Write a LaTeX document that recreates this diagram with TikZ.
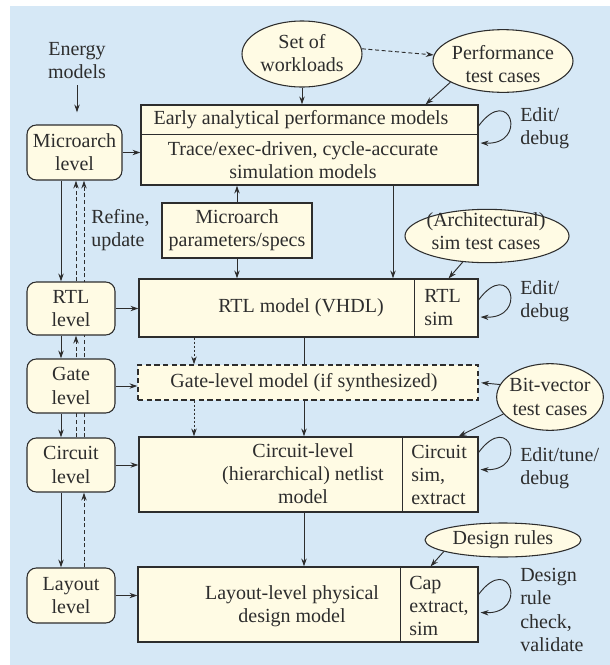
\documentclass[tikz,border=0pt]{standalone}
\usepackage{fontspec}
\setmainfont{Liberation Serif}
\usetikzlibrary{arrows.meta,shapes.geometric,fit,calc,backgrounds}

\definecolor{bgblue}{RGB}{214,232,246}
\definecolor{boxfill}{RGB}{255,251,228}
\definecolor{ink}{RGB}{45,45,45}

\tikzset{
  box/.style={draw=ink, line width=0.8pt, fill=boxfill, inner sep=0pt},
  lev/.style={box, rounded corners=7pt},
  ell/.style={ellipse, draw=ink, line width=0.8pt, fill=boxfill, inner sep=0pt},
  txt/.style={align=center, inner sep=0pt, text=ink},
  ltxt/.style={align=left, inner sep=0pt, text=ink, anchor=west},
  arr/.style={draw=ink, line width=0.7pt, -{Stealth[length=6pt,width=4pt]}},
  dasharr/.style={arr, dash pattern=on 3pt off 2pt},
  dotarr/.style={arr, dash pattern=on 1.5pt off 1.5pt},
}

\begin{document}
\begin{tikzpicture}[x=0.75pt, y=-0.75pt, font=\fontsize{15}{17.3}\selectfont]
        \useasboundingbox (0,0) rectangle (610,665);

        % Columns for the vertical connectors
        \coordinate (downcol) at (61,0);   % level down
        \coordinate (upA) at (76,0);       % refine, first
        \coordinate (upB) at (84,0);       % refine, second
        \coordinate (simcol) at (393,0);   % simulation models to RTL
        \coordinate (dotcol) at (194,0);   % dotted path
        \coordinate (netcol) at (304,0);   % netlist path

        % Levels on the left
        \node[lev, fit={(27,125) (122,180)}] (mlev) {};
        \node[lev, fit={(27,282) (115,335)}] (rlev) {};
        \node[lev, fit={(27,359) (115,413)}] (glev) {};
        \node[lev, fit={(27,438) (115,492)}] (clev) {};
        \node[lev, fit={(27,568) (115,623)}] (llev) {};
        \node[txt] (mlev-t) at (mlev) {Microarch\\level};
        \node[txt] (rlev-t) at (rlev) {RTL\\level};
        \node[txt] (glev-t) at (glev) {Gate\\level};
        \node[txt] (clev-t) at (clev) {Circuit\\level};
        \node[txt] (llev-t) at (llev) {Layout\\level};
        \node[txt] (energy) at (77,61) {Energy\\models};
        \node[ltxt] (refine) at (91,230) {Refine,\\update};

        % Models
        \node[box, fit={(141,105) (478,185)}] (early) {};
        \node[box, fit={(162,203) (312,258)}] (params) {};
        \node[box, fit={(139,279) (478,337)}] (rtl) {};
        \node[box, dash pattern=on 4pt off 2.5pt, fit={(138,365) (478,400)}] (gate) {};
        \node[box, fit={(139,437) (478,512)}] (circ) {};
        \node[box, fit={(138,567) (478,642)}] (lay) {};
        \draw[ink, line width=0.8pt] ($(early.north west)+(0,30)$) -- ($(early.north east)+(0,30)$);
        \draw[ink, line width=0.8pt] ($(rtl.north west)+(276,0)$) -- ($(rtl.south west)+(276,0)$);
        \draw[ink, line width=0.8pt] ($(circ.north west)+(264,0)$) -- ($(circ.south west)+(264,0)$);
        \draw[ink, line width=0.8pt] ($(lay.north west)+(263,0)$) -- ($(lay.south west)+(263,0)$);
        \node[txt] (early-a) at (301,120) {Early analytical performance models};
        \node[txt] (early-b) at (303,160) {Trace/exec-driven, cycle-accurate\\simulation models};
        \node[txt] (params-t) at (params) {Microarch\\parameters/specs};
        \node[txt] (rtl-t) at (301,308) {RTL model (VHDL)};
        \node[ltxt] (rtl-s) at (424,308) {RTL\\sim};
        \node[txt] (gate-t) at (304,383) {Gate-level model (if synthesized)};
        \node[txt] (circ-t) at (303,474) {Circuit-level\\(hierarchical) netlist\\model};
        \node[ltxt] (circ-s) at (411,475) {Circuit\\sim,\\extract};
        \node[txt] (lay-t) at (292,606) {Layout-level physical\\design model};
        \node[ltxt] (lay-s) at (409,606) {Cap\\extract,\\sim};

        % Test inputs
        \node[ell, minimum width=90pt, minimum height=49.5pt] (wl) at (302,54) {};
        \node[ell, minimum width=105pt, minimum height=47pt] (perf) at (503,61) {};
        \node[ell, minimum width=123pt, minimum height=40pt] (arch) at (487,236) {};
        \node[ell, minimum width=80pt, minimum height=50pt] (bitv) at (550,397) {};
        \node[ell, minimum width=117pt, minimum height=25.5pt] (rules) at (503,540) {};
        \node[txt] (wl-t) at (302,53) {Set of\\workloads};
        \node[txt] (perf-t) at (503,64) {Performance\\test cases};
        \node[txt] (arch-t) at (486,231) {(Architectural)\\sim test cases};
        \node[txt] (bitv-t) at (550,397) {Bit-vector\\test cases};
        \node[txt] (rules-t) at (503,540) {Design rules};

        % Edit loops, start above and end below on the right side
        \node[ltxt] (ed1) at (520,128) {Edit/\\debug};
        \node[ltxt] (ed2) at (520,301) {Edit/\\debug};
        \node[ltxt] (ed3) at (520,468) {Edit/tune/\\debug};
        \node[ltxt] (ed4) at (520,610) {Design\\rule\\check,\\validate};
        \draw[arr] ($(early.east)+(0,-19)$) .. controls ($(early.east)+(32,-62)$) and ($(early.east)+(50,0)$) .. ($(early.east)+(2,-2)$);
        \draw[arr] ($(rtl.east)+(0,-8)$) .. controls ($(rtl.east)+(32,-51)$) and ($(rtl.east)+(50,11)$) .. ($(rtl.east)+(2,9)$);
        \draw[arr] ($(circ.east)+(0,-22)$) .. controls ($(circ.east)+(32,-65)$) and ($(circ.east)+(50,-3)$) .. ($(circ.east)+(2,-5)$);
        \draw[arr] ($(lay.east)+(0,-10)$) .. controls ($(lay.east)+(32,-53)$) and ($(lay.east)+(50,10)$) .. ($(lay.east)+(2,8)$);

        % Left column connectors
        \draw[arr, shorten <=4.5pt, shorten >=9pt] (energy) -- (energy |- mlev.north);
        \draw[arr] (mlev.east) -- (mlev.east -| early.west);
        \draw[arr] (rlev.east) -- (rlev.east -| rtl.west);
        \draw[arr] (glev.east) -- (glev.east -| gate.west);
        \draw[arr] (clev.east) -- (clev.east -| circ.west);
        \draw[arr] (llev.east) -- (llev.east -| lay.west);
        \draw[arr] (mlev.south -| downcol) -- (rlev.north -| downcol);
        \draw[arr] (rlev.south -| downcol) -- (glev.north -| downcol);
        \draw[arr] (glev.south -| downcol) -- (clev.north -| downcol);
        \draw[arr] (clev.south -| downcol) -- (llev.north -| downcol);
        \draw[dasharr] (rlev.north -| upA) -- (mlev.south -| upA);
        \draw[dasharr] (llev.north -| upB) -- (clev.south -| upB);

        % Center connectors
        \draw[arr] (wl.south) -- (wl.south |- early.north);
        \draw[dasharr] (wl.5) -- (perf.175);
        \draw[arr] (perf.202) -- ($(early.north east)+(-53,0)$);
        \draw[arr] (params.north) -- (params.north |- early.south);
        \draw[arr] (params.south) -- (params.south |- rtl.north);
        \draw[arr] (early.south -| simcol) -- (rtl.north -| simcol);
        \draw[arr] (arch.227) -- ($(rtl.north east)+(-30,0)$);
        \draw[dotarr] (rtl.south -| dotcol) -- (gate.north -| dotcol);
        \draw[dotarr] (gate.south -| dotcol) -- (circ.north -| dotcol);
        \draw[arr] (circ.south -| netcol) -- (lay.north -| netcol);
        \draw[arr, shorten >=2pt] (bitv.166) -- (gate.east);
        \draw[arr] (bitv.200) -- ($(circ.north east)+(-20,0)$);
        \draw[arr] (rules.191) -- ($(lay.north east)+(-48,0)$);

        % Background and the connectors hidden behind boxes
        \begin{scope}[on background layer]
          \fill[bgblue] (10,6) rectangle (610,665);
          \draw[dasharr] (clev.north -| upA) -- (rlev.south -| upA);
          \draw[dasharr] (clev.north -| upB) -- (mlev.south -| upB);
          \draw[arr] (rtl.south -| netcol) -- (circ.north -| netcol);
        \end{scope}
      \end{tikzpicture}
\end{document}
